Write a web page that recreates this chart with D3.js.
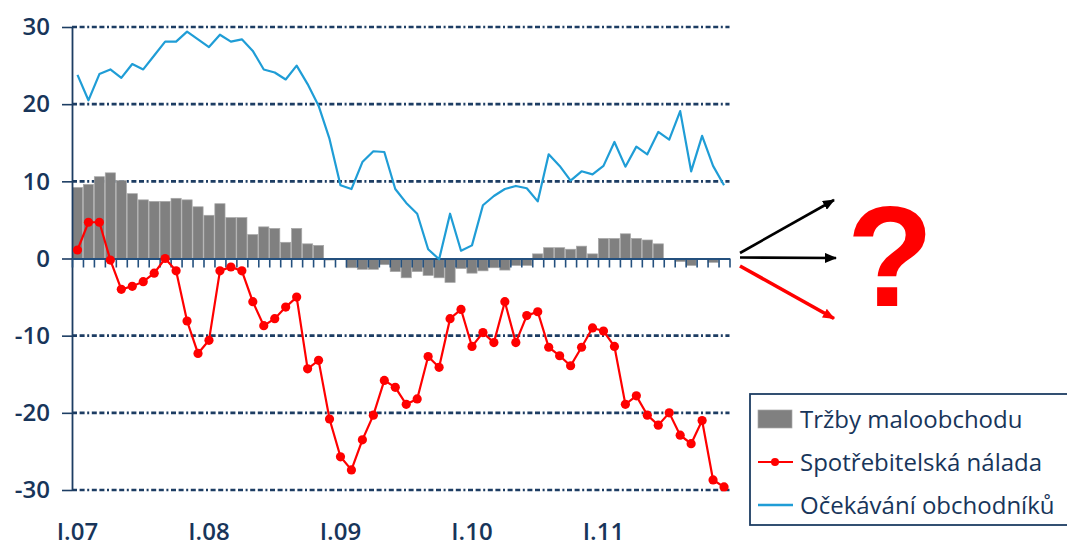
<!DOCTYPE html>
<html><head><meta charset="utf-8">
<script src="https://cdn.jsdelivr.net/npm/d3@7"></script>
<style>body{margin:0;background:#fff}svg{display:block}</style>
</head><body><svg id="c" width="1067" height="547"></svg>
<script>
// ---- data ----
const years = ["2007","2008","2009","2010","2011"];
const monthNums = ["01","02","03","04","05","06","07","08","09","10","11","12"];
const months = years.flatMap(y => monthNums.map(m => y + "-" + m));
const xTickLabels = ["I.07","I.08","I.09","I.10","I.11"];
const xTickMonths = ["2007-01","2008-01","2009-01","2010-01","2011-01"];
const yTicks = [-30,-20,-10,0,10,20,30];

const retailSales = [9.2,9.6,10.6,11.1,10.1,8.4,7.6,7.4,7.4,7.8,7.6,6.7,
  5.6,7.1,5.3,5.3,3.1,4.1,3.9,2.1,3.9,1.9,1.7,-0.2,
  0,-1.2,-1.4,-1.4,-0.8,-1.7,-2.5,-1.7,-2.2,-2.5,-3.1,-1.3,
  -1.9,-1.6,-1.2,-1.5,-0.9,-0.9,0.6,1.4,1.4,1.2,1.6,0.6,
  2.6,2.6,3.2,2.6,2.4,1.9,0,-0.4,-0.9,0,-0.5,0];
const consumerMood = [1.1,4.7,4.7,-0.2,-4.0,-3.6,-3.0,-1.9,0.0,-1.6,-8.1,-12.3,
  -10.6,-1.6,-1.1,-1.6,-5.6,-8.7,-7.8,-6.3,-5.0,-14.3,-13.2,-20.8,
  -25.7,-27.4,-23.5,-20.3,-15.8,-16.7,-18.9,-18.2,-12.7,-14.1,-7.8,-6.6,
  -11.4,-9.6,-10.9,-5.6,-10.9,-7.4,-6.9,-11.5,-12.6,-13.9,-11.5,-9.0,
  -9.4,-11.4,-18.9,-17.8,-20.3,-21.6,-20.0,-22.9,-24.0,-21.0,-28.7,-29.6];
const retailerExpect = [23.8,20.5,23.9,24.5,23.4,25.2,24.5,26.3,28.1,28.1,29.4,28.4,
  27.4,29.0,28.1,28.4,26.9,24.5,24.1,23.2,25.0,22.6,19.8,15.5,
  9.5,9.0,12.5,13.9,13.8,9.0,7.2,5.8,1.2,-0.1,5.8,1.0,
  1.7,6.9,8.1,9.0,9.4,9.1,7.4,13.5,12.0,10.1,11.3,10.9,
  12.0,15.1,11.9,14.5,13.5,16.4,15.4,19.1,11.3,15.9,12.0,9.5];
const legendLabels = ["Tržby maloobchodu","Spotřebitelská nálada","Očekávání obchodníků"];

// ---- layout ----
const L = 72, R = 729.5, T = 27, B = 490;
const navy = "#1d3d63", textCol = "#18355a";
const blue = "#1f9dd6", red = "#ff0000", gray = "#808080";
const font = "'Open Sans', 'DejaVu Sans', sans-serif";

const svg = d3.select("#c");
svg.append("rect").attr("width",1067).attr("height",547).attr("fill","#fff");

const x = d3.scaleBand().domain(months).range([L, R]).paddingInner(0.07).paddingOuter(0.035);
const xEdge = d3.scaleLinear().domain([0, months.length]).range([L, R]);
const y = d3.scaleLinear().domain([-30, 30]).range([B, T]);
const xc = m => x(m) + x.bandwidth()/2;

// grid
svg.append("g").selectAll("line").data(yTicks.filter(d => d !== 0)).join("line")
  .attr("x1", L).attr("x2", R).attr("y1", d => y(d)).attr("y2", d => y(d))
  .attr("stroke", navy).attr("stroke-width", 2.6)
  .attr("stroke-dasharray", "5,2.6,5,2.6,2,2.6");

// bars
svg.append("g").selectAll("rect").data(months).join("rect")
  .attr("x", m => x(m)).attr("width", x.bandwidth())
  .attr("y", (m,i) => y(Math.max(0, retailSales[i])))
  .attr("height", (m,i) => Math.abs(y(retailSales[i]) - y(0)))
  .attr("fill", gray).attr("stroke", "#a8a8a8").attr("stroke-width", 0.7);

// y axis
const yAx = svg.append("g").attr("transform", `translate(${L},0)`)
  .call(d3.axisLeft(y).tickValues(yTicks).tickSize(10).tickSizeOuter(0).tickPadding(12)
    .tickFormat(d => d < 0 ? "-" + Math.abs(d) : d));
yAx.select(".domain").attr("stroke", navy).attr("stroke-width", 1.8);
yAx.selectAll(".tick line").attr("stroke", navy).attr("stroke-width", 1.6);
yAx.selectAll(".tick text").attr("font-family", font).attr("font-size", 24)
  .attr("font-weight", 600).attr("fill", textCol);

// x axis (month boundary ticks)
const xAx = svg.append("g").attr("transform", `translate(0,${y(0)})`)
  .call(d3.axisBottom(xEdge).tickValues(d3.range(months.length + 1)).tickSize(9).tickSizeOuter(0).tickFormat(""));
xAx.select(".domain").attr("stroke", "#24507e").attr("stroke-width", 2);
xAx.selectAll(".tick line").attr("stroke", "#24507e").attr("stroke-width", 1.6);

// x labels
svg.append("g").selectAll("text").data(xTickMonths).join("text")
  .attr("x", m => xc(m)).attr("y", 540).attr("text-anchor", "middle")
  .attr("font-family", font).attr("font-size", 24).attr("font-weight", 600)
  .attr("fill", textCol).text((m,i) => xTickLabels[i]);

// blue line
svg.append("path").datum(retailerExpect)
  .attr("d", d3.line().x((d,i) => xc(months[i])).y(d => y(d)))
  .attr("fill", "none").attr("stroke", blue).attr("stroke-width", 2.2).attr("stroke-linejoin", "round");

// red line + dots
svg.append("path").datum(consumerMood)
  .attr("d", d3.line().x((d,i) => xc(months[i])).y(d => y(d)))
  .attr("fill", "none").attr("stroke", red).attr("stroke-width", 2.2);
svg.append("g").selectAll("circle").data(consumerMood).join("circle")
  .attr("cx", (d,i) => xc(months[i])).attr("cy", d => y(d)).attr("r", 4.6).attr("fill", red);

// arrows + question mark
const defs = svg.append("defs");
[["ahBlack","#000"],["ahRed",red]].forEach(([id,c]) => {
  defs.append("marker").attr("id", id).attr("viewBox", "0 0 12 10")
    .attr("refX", 11).attr("refY", 5).attr("markerWidth", 12).attr("markerHeight", 10)
    .attr("markerUnits", "userSpaceOnUse").attr("orient", "auto")
    .append("path").attr("d", "M0,0 L12,5 L0,10 Z").attr("fill", c);
});
const arrows = [
  {x1:740, y1:253, x2:834, y2:200, c:"#000", w:2.6, m:"ahBlack"},
  {x1:740, y1:257.5, x2:836, y2:258, c:"#000", w:2.6, m:"ahBlack"},
  {x1:740, y1:266, x2:834, y2:318.5, c:red, w:3.6, m:"ahRed"}
];
svg.append("g").selectAll("line").data(arrows).join("line")
  .attr("x1", d => d.x1).attr("y1", d => d.y1).attr("x2", d => d.x2).attr("y2", d => d.y2)
  .attr("stroke", d => d.c).attr("stroke-width", d => d.w)
  .attr("marker-end", d => `url(#${d.m})`);
svg.append("text").attr("x", 890).attr("y", 306).attr("text-anchor", "middle")
  .attr("font-family", "'Liberation Sans', Arial, sans-serif").attr("font-weight", "bold")
  .attr("font-size", 142).attr("fill", red).text("?");

// legend
const lg = svg.append("g");
lg.append("rect").attr("x", 750).attr("y", 394).attr("width", 330).attr("height", 131)
  .attr("fill", "#fff").attr("stroke", navy).attr("stroke-width", 1.8);
const rowY = [419, 462, 505];
lg.append("rect").attr("x", 758).attr("y", rowY[0]-9).attr("width", 34).attr("height", 18)
  .attr("fill", gray).attr("stroke", "#a8a8a8").attr("stroke-width", 0.7);
lg.append("line").attr("x1", 758).attr("x2", 793).attr("y1", rowY[1]).attr("y2", rowY[1])
  .attr("stroke", red).attr("stroke-width", 2.2);
lg.append("circle").attr("cx", 775).attr("cy", rowY[1]).attr("r", 4).attr("fill", red);
lg.append("line").attr("x1", 758).attr("x2", 793).attr("y1", rowY[2]).attr("y2", rowY[2])
  .attr("stroke", blue).attr("stroke-width", 2.4);
lg.selectAll("text.lt").data(legendLabels).join("text").attr("class","lt")
  .attr("x", 800).attr("y", (d,i) => rowY[i] + 8.5)
  .attr("font-family", font).attr("font-size", 24).attr("fill", textCol).text(d => d);
</script></body></html>
